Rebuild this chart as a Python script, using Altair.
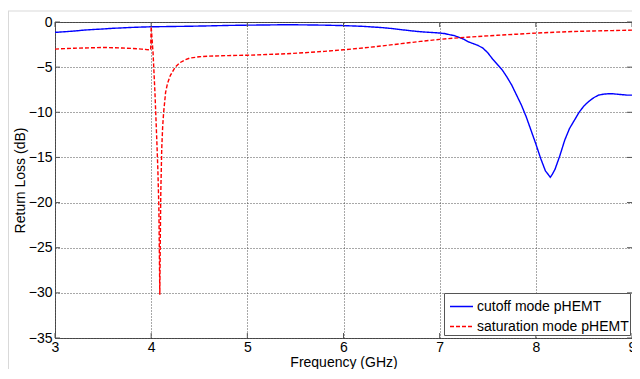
import altair as alt
import pandas as pd

# ---- data ----
series_names = ["cutoff mode pHEMT", "saturation mode pHEMT"]

blue_x = [3.0, 3.1, 3.2, 3.3, 3.4, 3.5, 3.6, 3.7, 3.8, 3.9, 4.0, 4.2, 4.4, 4.6, 4.8,
          5.0, 5.2, 5.4, 5.6, 5.8, 6.0, 6.2, 6.4, 6.5, 6.6, 6.7, 6.8, 6.9, 7.0, 7.05,
          7.1, 7.15, 7.2, 7.25, 7.3, 7.35, 7.4, 7.45, 7.5, 7.55, 7.6, 7.65, 7.7, 7.75,
          7.8, 7.85, 7.9, 7.95, 8.0, 8.05, 8.1, 8.13, 8.15, 8.17, 8.2, 8.25, 8.3, 8.35,
          8.4, 8.45, 8.5, 8.55, 8.6, 8.65, 8.7, 8.75, 8.8, 8.85, 8.9, 8.95, 9.0]
blue_y = [-1.15, -1.08, -1.0, -0.9, -0.83, -0.77, -0.7, -0.65, -0.6, -0.56, -0.53, -0.5,
          -0.47, -0.43, -0.38, -0.35, -0.33, -0.3, -0.32, -0.35, -0.4, -0.48, -0.62, -0.72,
          -0.85, -0.97, -1.08, -1.15, -1.22, -1.28, -1.4, -1.5, -1.7, -1.9, -2.2, -2.4,
          -2.6, -2.9, -3.4, -4.1, -4.7, -5.3, -6.1, -7.0, -8.1, -9.2, -10.5, -12.0, -13.5,
          -15.1, -16.5, -16.9, -17.2, -16.9, -16.3, -14.8, -13.1, -11.8, -10.9, -10.0,
          -9.3, -8.8, -8.4, -8.1, -8.0, -7.95, -7.95, -8.0, -8.05, -8.1, -8.1]

red_x = [3.0, 3.1, 3.2, 3.3, 3.4, 3.5, 3.6, 3.7, 3.8, 3.9, 3.95, 3.995, 4.0, 4.02, 4.04,
         4.06, 4.07, 4.08, 4.09, 4.095, 4.1, 4.11, 4.12, 4.13, 4.15, 4.17, 4.2, 4.25, 4.3,
         4.35, 4.4, 4.5, 4.6, 4.8, 5.0, 5.2, 5.4, 5.6, 5.8, 6.0, 6.2, 6.4, 6.6, 6.8, 7.0,
         7.2, 7.4, 7.6, 7.8, 8.0, 8.2, 8.4, 8.6, 8.8, 9.0]
red_y = [-3.0, -2.95, -2.9, -2.88, -2.85, -2.82, -2.85, -2.88, -2.92, -3.0, -3.05, -3.08,
         -0.5, -3.5, -8.0, -13.5, -16.5, -20.5, -30.2, -24.0, -19.0, -14.0, -11.5, -10.0,
         -7.8, -6.8, -5.9, -5.0, -4.5, -4.2, -4.0, -3.85, -3.78, -3.72, -3.68, -3.6, -3.52,
         -3.4, -3.25, -3.08, -2.88, -2.65, -2.4, -2.15, -1.92, -1.75, -1.6, -1.47, -1.35,
         -1.23, -1.13, -1.05, -0.99, -0.95, -0.9]

x_ticks = [3, 4, 5, 6, 7, 8, 9]
y_ticks = [-35, -30, -25, -20, -15, -10, -5, 0]

W, H = 577, 316
PAD_L, PAD_T, PAD_B = 47, 14, 31
FONT = "Liberation Sans"
FRAME = "#555555"

df = pd.concat([
    pd.DataFrame({"freq": blue_x, "rl": blue_y, "series": series_names[0]}),
    pd.DataFrame({"freq": red_x, "rl": red_y, "series": series_names[1]}),
], ignore_index=True)

x_scale = alt.Scale(domain=[3, 9], nice=False, zero=False)
y_scale = alt.Scale(domain=[-35, 0], nice=False, zero=False)
x_axis = alt.Axis(values=x_ticks, title="Frequency (GHz)", format="d", labelFlush=False)
y_axis = alt.Axis(values=y_ticks, title="Return Loss (dB)", format="d", labelFlush=False)

lines = alt.Chart(df).mark_line(strokeWidth=1.4, clip=True).encode(
    x=alt.X("freq:Q", scale=x_scale, axis=x_axis),
    y=alt.Y("rl:Q", scale=y_scale, axis=y_axis),
    color=alt.Color("series:N",
                    scale=alt.Scale(domain=series_names, range=["#0000ff", "#ff0000"]),
                    legend=alt.Legend(title=None, labelExpr="datum.label + ' '")),
    strokeDash=alt.StrokeDash("series:N",
                              scale=alt.Scale(domain=series_names, range=[[1, 0], [4, 2]]),
                              legend=alt.Legend(title=None, labelExpr="datum.label + ' '")),
)

xt = pd.DataFrame({"freq": x_ticks})
yt = pd.DataFrame({"rl": y_ticks})
TL = 5
bottom_ticks = alt.Chart(xt).mark_rule(color=FRAME).encode(
    x=alt.X("freq:Q", scale=x_scale, axis=x_axis), y=alt.value(H), y2=alt.value(H - TL))
top_ticks = alt.Chart(xt).mark_rule(color=FRAME).encode(
    x=alt.X("freq:Q", scale=x_scale, axis=x_axis), y=alt.value(0), y2=alt.value(TL))
left_ticks = alt.Chart(yt).mark_rule(color=FRAME).encode(
    y=alt.Y("rl:Q", scale=y_scale, axis=y_axis), x=alt.value(0), x2=alt.value(TL))
right_ticks = alt.Chart(yt).mark_rule(color=FRAME).encode(
    y=alt.Y("rl:Q", scale=y_scale, axis=y_axis), x=alt.value(W), x2=alt.value(W - TL))

one = pd.DataFrame({"a": [0]})
outer_top = alt.Chart(one).mark_rule(color="#d9d9d9", strokeWidth=1).encode(
    x=alt.value(-PAD_L), x2=alt.value(W + 10), y=alt.value(-11))
outer_left = alt.Chart(one).mark_rule(color="#d9d9d9", strokeWidth=1).encode(
    x=alt.value(-PAD_L + 0.5), y=alt.value(-11), y2=alt.value(H + 40))

chart = alt.layer(
    outer_top, outer_left, lines, bottom_ticks, top_ticks, left_ticks, right_ticks
).properties(
    width=W, height=H, autosize="none",
    padding={"left": PAD_L, "top": PAD_T, "right": 0, "bottom": PAD_B},
    background="white",
).configure_view(
    stroke=FRAME, strokeWidth=1
).configure_axis(
    labelFont=FONT, labelFontSize=14, labelColor="black",
    titleFont=FONT, titleFontSize=14, titleFontWeight="normal", titleColor="black",
    domain=False, ticks=False,
    grid=True, gridColor="#333333", gridDash=[1, 2], gridOpacity=0.85, gridWidth=1,
).configure_axisX(
    labelPadding=2, titlePadding=1
).configure_axisY(
    labelPadding=3, titlePadding=1
).configure_legend(
    orient="none", legendX=389, legendY=H - 45,
    fillColor="white", strokeColor=FRAME, padding=1, cornerRadius=0,
    labelFont=FONT, labelFontSize=14, labelColor="black", labelOffset=3,
    symbolType="stroke", symbolSize=529, symbolStrokeWidth=1.5, rowPadding=-2,
    symbolOffset=4,
)

chart.save("out.html", embed_options={"renderer": "svg", "actions": False})
